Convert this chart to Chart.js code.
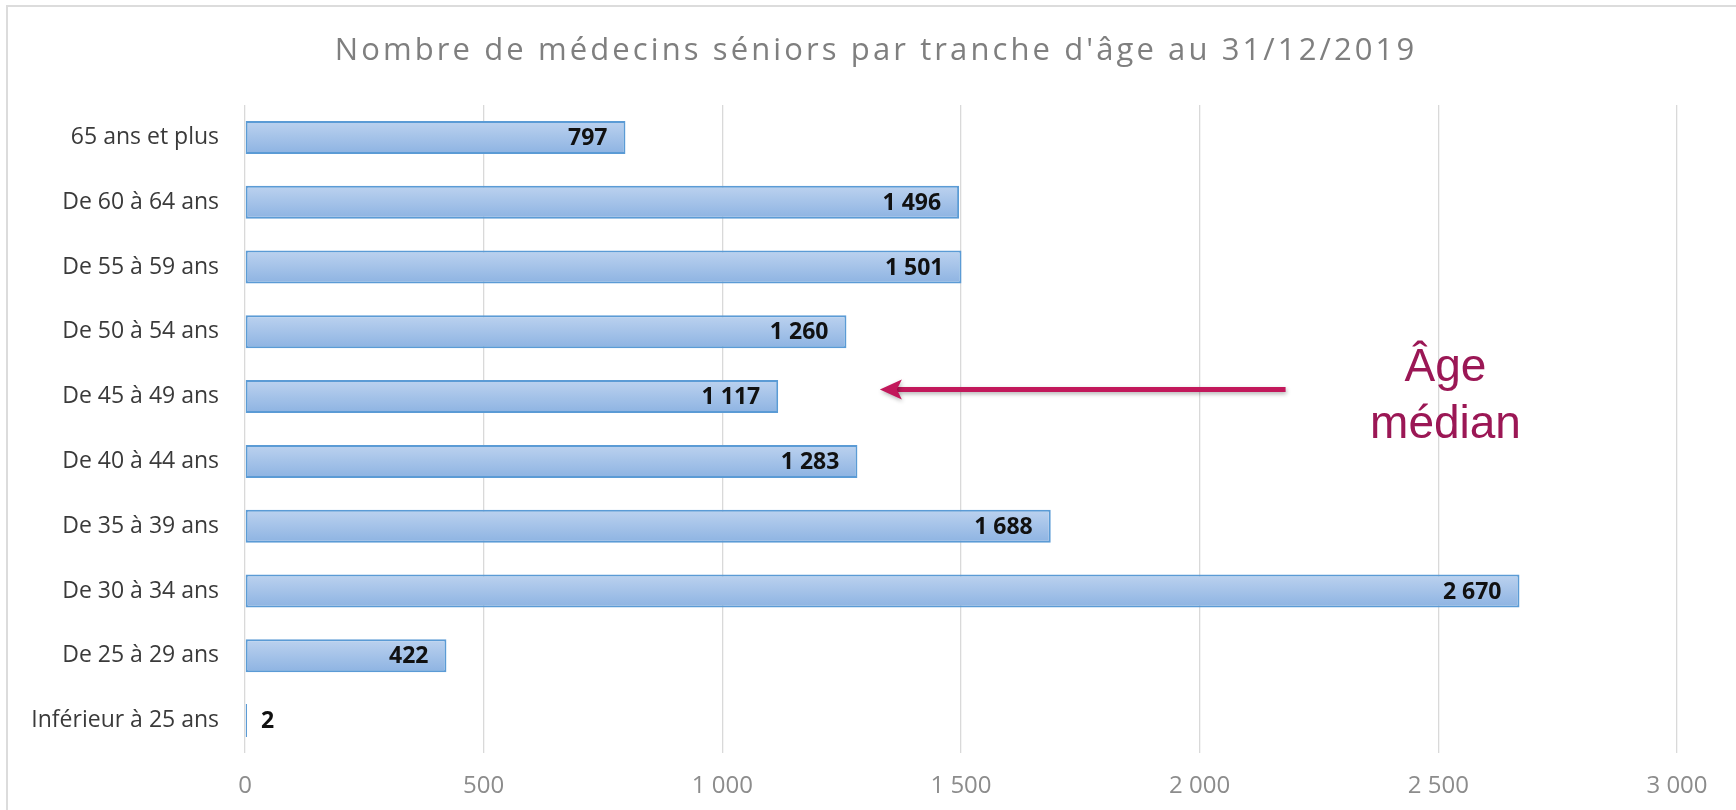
<!DOCTYPE html>
<html lang="fr">
<head>
<meta charset="utf-8">
<title>Médecins séniors par tranche d'âge</title>
<script src="https://cdn.jsdelivr.net/npm/chart.js@4.4.1/dist/chart.umd.min.js"></script>
<style>
  html, body { margin: 0; padding: 0; background: #fff; }
  #wrap { position: relative; width: 1736px; height: 810px; overflow: hidden; }
  #frame {
    position: absolute; left: 6px; top: 5px; width: 1800px; height: 900px;
    border-left: 2px solid #dcdcdc; border-top: 2px solid #dcdcdc;
  }
  #chart { position: absolute; left: 0; top: 0; }
</style>
</head>
<body>
<div id="wrap">
  <div id="frame"></div>
  <canvas id="chart" width="1736" height="810"></canvas>
</div>
<script>
// Data (top to bottom)
const ageGroups = [
  '65 ans et plus',
  'De 60 à 64 ans',
  'De 55 à 59 ans',
  'De 50 à 54 ans',
  'De 45 à 49 ans',
  'De 40 à 44 ans',
  'De 35 à 39 ans',
  'De 30 à 34 ans',
  'De 25 à 29 ans',
  'Inférieur à 25 ans'
];
const doctorCounts = [797, 1496, 1501, 1260, 1117, 1283, 1688, 2670, 422, 2];
const xTicks = [0, 500, 1000, 1500, 2000, 2500, 3000];

const chartTitle = "Nombre de médecins séniors par tranche d'âge au 31/12/2019";
const medianGroup = 'De 45 à 49 ans';
const medianLabel = ['Âge', 'médian'];
// arrow runs from tail to head along the x scale, text centred on textAt
const arrowFrom = 2180, arrowTo = 1330, textAt = 2515;

const fmt = (v) => String(v).replace(/\B(?=(\d{3})+(?!\d))/g, ' ');

const BAR_PCT = 0.51;

// vertical gradient per bar
function barFill(ctx) {
  const chart = ctx.chart;
  const ys = chart.scales && chart.scales.y;
  if (!ys || !chart.chartArea) return '#a3c1e9';
  const yc = ys.getPixelForValue(ctx.dataIndex);
  const half = ys.getPixelForValue(1) - ys.getPixelForValue(0);
  const h = Math.abs(half) * BAR_PCT / 2;
  const g = chart.ctx.createLinearGradient(0, yc - h, 0, yc + h);
  g.addColorStop(0, '#bcd2ef');
  g.addColorStop(1, '#8db3e2');
  return g;
}

const titlePlugin = {
  id: 'sheetTitle',
  afterDraw(chart) {
    const c = chart.ctx;
    c.save();
    c.font = '31px "Open Sans"';
    c.letterSpacing = '3.1px';
    c.fillStyle = '#7f7f7f';
    c.textAlign = 'center';
    c.textBaseline = 'middle';
    c.fillText(chartTitle, 876, 51);
    c.restore();
  }
};

const valueLabels = {
  id: 'valueLabels',
  afterDatasetsDraw(chart) {
    const c = chart.ctx;
    const meta = chart.getDatasetMeta(0);
    c.save();
    c.font = 'bold 23px "Open Sans"';
    c.fillStyle = '#111';
    c.textBaseline = 'middle';
    meta.data.forEach((bar, i) => {
      const txt = fmt(doctorCounts[i]);
      const w = c.measureText(txt).width;
      const len = bar.x - bar.base;
      if (len > w + 30) {
        c.textAlign = 'right';
        c.fillText(txt, bar.x - 18, bar.y + 1);
      } else {
        c.textAlign = 'left';
        c.fillText(txt, bar.x + 14, bar.y + 1);
      }
    });
    c.restore();
  }
};

const medianArrow = {
  id: 'medianArrow',
  afterDatasetsDraw(chart) {
    const xs = chart.scales.x, ys = chart.scales.y;
    const c = chart.ctx;
    const idx = ageGroups.indexOf(medianGroup);
    const y = ys.getPixelForValue(idx) - 7;
    const x1 = xs.getPixelForValue(arrowFrom);
    const x2 = xs.getPixelForValue(arrowTo);
    c.save();
    c.shadowColor = 'rgba(0,0,0,0.3)';
    c.shadowBlur = 4;
    c.shadowOffsetX = 1;
    c.shadowOffsetY = 2;
    c.strokeStyle = '#c2185b';
    c.fillStyle = '#c2185b';
    c.lineWidth = 5;
    c.beginPath();
    c.moveTo(x1, y);
    c.lineTo(x2 + 16, y);
    c.stroke();
    c.beginPath();
    c.moveTo(x2, y);
    c.lineTo(x2 + 22, y - 10);
    c.lineTo(x2 + 17, y);
    c.lineTo(x2 + 22, y + 10);
    c.closePath();
    c.fill();
    c.restore();

    c.save();
    c.fillStyle = '#9b1755';
    c.font = '46px "Liberation Sans"';
    c.textAlign = 'center';
    c.textBaseline = 'alphabetic';
    const tx = xs.getPixelForValue(textAt);
    c.fillText(medianLabel[0], tx, y - 9);
    c.fillText(medianLabel[1], tx, y + 48);
    c.restore();
  }
};

window.addEventListener('DOMContentLoaded', () => {
  const ctx = document.getElementById('chart').getContext('2d');
  new Chart(ctx, {
    type: 'bar',
    data: {
      labels: ageGroups,
      datasets: [{
        label: 'Médecins séniors',
        data: doctorCounts,
        backgroundColor: barFill,
        borderColor: '#5b9bd5',
        borderWidth: 2,
        borderSkipped: false,
        minBarLength: 2,
        barPercentage: BAR_PCT,
        categoryPercentage: 1
      }]
    },
    options: {
      indexAxis: 'y',
      responsive: false,
      animation: false,
      layout: { padding: { top: 105, right: 59, left: 0, bottom: 0 } },
      plugins: {
        legend: { display: false },
        title: { display: false },
        tooltip: { enabled: false }
      },
      scales: {
        x: {
          min: 0,
          max: 3000,
          afterBuildTicks: (s) => { s.ticks = xTicks.map(v => ({ value: v })); },
          afterFit: (s) => { s.height = 57; },
          grid: { color: '#d9d9d9', lineWidth: 1.3, drawTicks: false },
          border: { display: false },
          ticks: {
            padding: 19,
            color: '#8c8c8c',
            font: { family: '"Open Sans"', size: 24 },
            maxRotation: 0,
            callback: (v) => fmt(v)
          }
        },
        y: {
          afterFit: (s) => { s.width = 245; },
          grid: { display: false, drawTicks: false },
          border: { display: false },
          ticks: {
            padding: 26,
            color: '#3a3a3a',
            font: { family: '"Open Sans"', size: 23 }
          }
        }
      }
    },
    plugins: [titlePlugin, valueLabels, medianArrow]
  });
});
</script>
</body>
</html>
